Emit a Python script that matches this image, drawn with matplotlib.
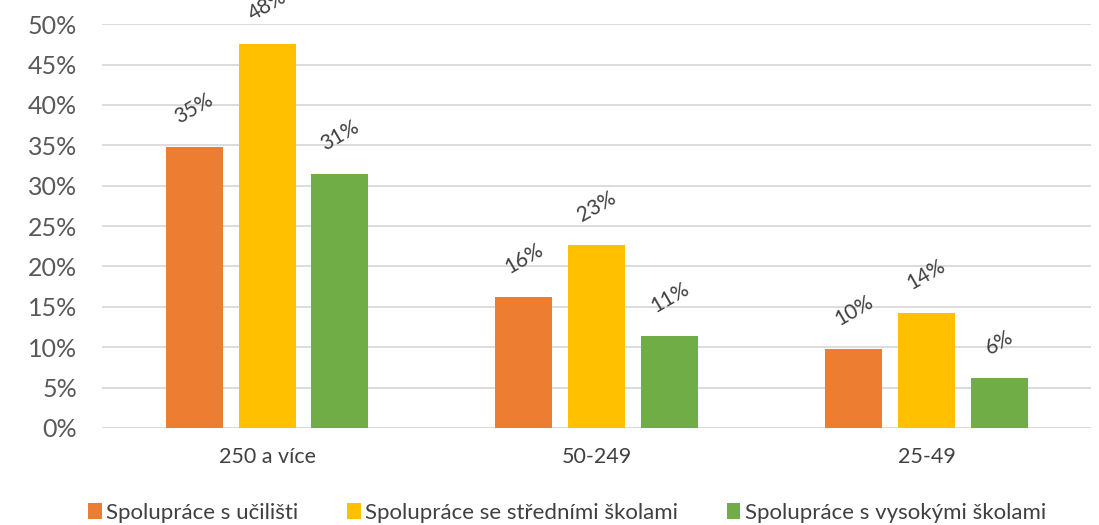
import numpy as np
import matplotlib.pyplot as plt
from matplotlib.ticker import PercentFormatter

plt.rcParams['font.family'] = ['Lato', 'DejaVu Sans']

categories = ["250 a více", "50-249", "25-49"]
series_names = ["Spolupráce s učilišti", "Spolupráce se středními školami", "Spolupráce s vysokými školami"]
ucilste = [34.8, 16.2, 9.8]
stredni = [47.6, 22.6, 14.2]
vysoke = [31.4, 11.4, 6.2]
colors = ["#ED7D31", "#FFC000", "#70AD47"]

fig = plt.figure(figsize=(10.99, 5.25), dpi=100)
ax = fig.add_axes([0.093, 0.185, 0.9, 0.769])

x = np.arange(len(categories))
step = 0.221
width = 0.173
for i, (vals, name, c) in enumerate(zip([ucilste, stredni, vysoke], series_names, colors)):
    pos = x + (i - 1) * step
    bars = ax.bar(pos, vals, width, color=c, label=name, zorder=3)
    for b, v in zip(bars, vals):
        ax.annotate(f"{v:.0f}%", (b.get_x() + b.get_width() / 2, v),
                    xytext=(0, 14), textcoords="offset points",
                    ha="center", va="bottom", rotation=30,
                    fontsize=15, color="#404040", annotation_clip=False)

ax.set_xlim(-0.5, 2.5)
ax.set_ylim(0, 50)
ax.set_yticks(np.arange(0, 51, 5))
ax.yaxis.set_major_formatter(PercentFormatter(decimals=0))
ax.set_xticks(x)
ax.set_xticklabels(categories)
ax.grid(axis="y", color="#d9d9d9", linewidth=1.3, zorder=0)
for s in ax.spines.values():
    s.set_visible(False)
ax.tick_params(axis="y", length=0, pad=18, labelsize=18, labelcolor="#595959")
ax.tick_params(axis="x", length=0, pad=14, labelsize=15.5, labelcolor="#404040")

ax.legend(loc="center", bbox_to_anchor=(0.47, -0.21), ncol=3, frameon=False,
          fontsize=16, labelcolor="#404040", handlelength=0.6, handleheight=0.7,
          handletextpad=0.2, columnspacing=2.2)

fig.savefig("out.png", dpi=100)
